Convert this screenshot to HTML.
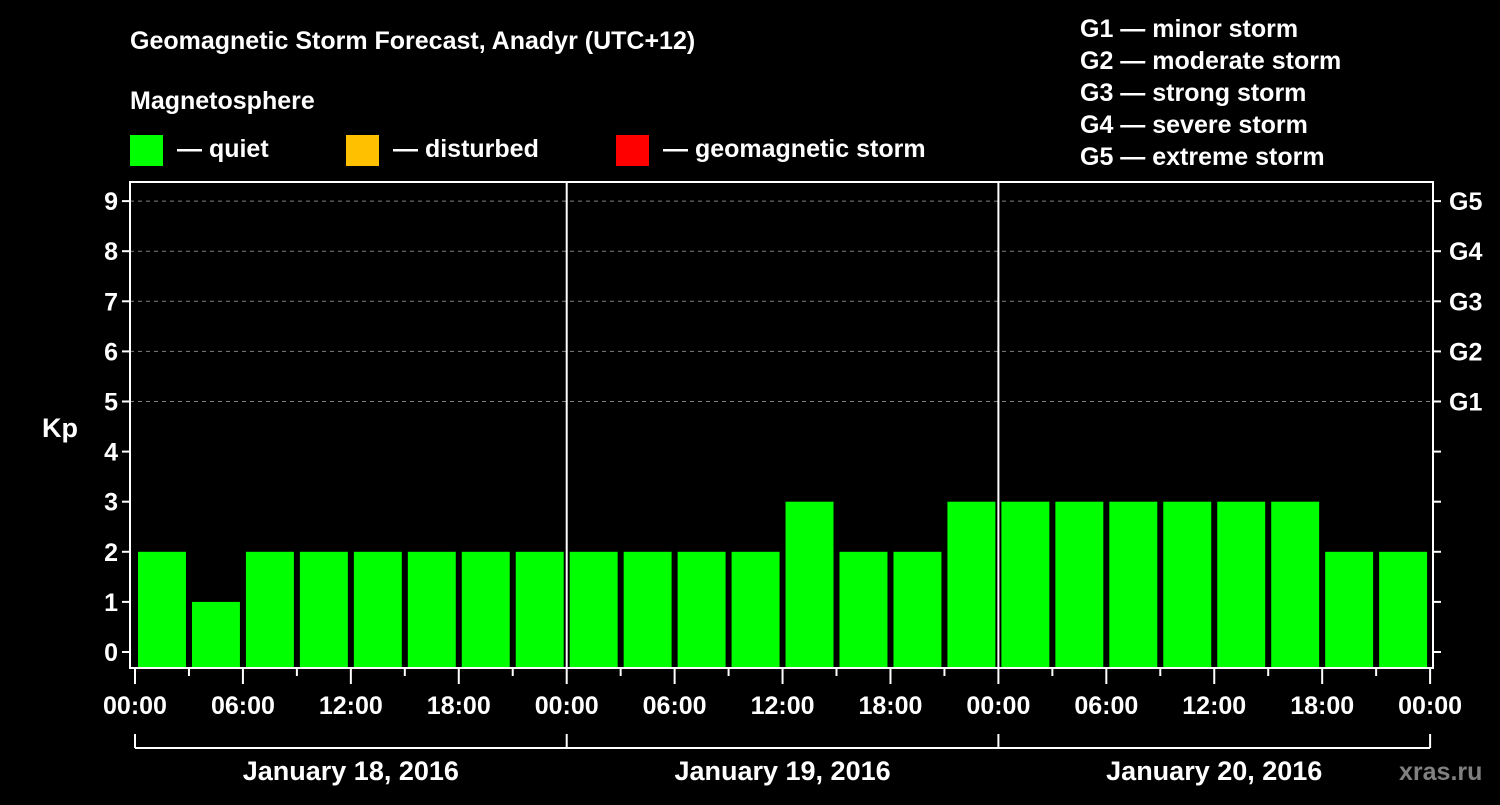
<!DOCTYPE html>
<html><head><meta charset="utf-8"><style>
html,body{margin:0;padding:0;background:#000;}
svg text{font-family:"Liberation Sans",Arial,sans-serif;font-weight:bold;fill:#fff;}
</style></head><body>
<svg id="chart" width="1500" height="800" viewBox="0 0 1500 800" xmlns="http://www.w3.org/2000/svg">
<rect width="1500" height="800" fill="#000"/>
<text x="130" y="49" font-size="25">Geomagnetic Storm Forecast, Anadyr (UTC+12)</text>
<text x="130" y="109" font-size="25">Magnetosphere</text>
<g><rect x="130" y="135" width="33" height="31" fill="#00ff00"/><text x="177" y="157" font-size="25">— quiet</text></g>
<g><rect x="346" y="135" width="33" height="31" fill="#ffc000"/><text x="393" y="157" font-size="25">— disturbed</text></g>
<g><rect x="616" y="135" width="33" height="31" fill="#ff0000"/><text x="663" y="157" font-size="25">— geomagnetic storm</text></g>
<g font-size="25">
<text x="1080" y="37">G1 — minor storm</text>
<text x="1080" y="69">G2 — moderate storm</text>
<text x="1080" y="101">G3 — strong storm</text>
<text x="1080" y="133">G4 — severe storm</text>
<text x="1080" y="165">G5 — extreme storm</text>
</g>
<text x="42" y="437" font-size="27">Kp</text>
<text x="1399" y="780" font-size="25" style="fill:#808080">xras.ru</text>
<g id="plot"></g>
</svg>
<script>
const kpValues = [2,1,2,2,2,2,2,2, 2,2,2,2,3,2,2,3, 3,3,3,3,3,3,2,2];
const dayLabels = ["January 18, 2016","January 19, 2016","January 20, 2016"];
const hourLabels = ["00:00","06:00","12:00","18:00"];
const yTicks = [0,1,2,3,4,5,6,7,8,9];
const gLabels = ["G1","G2","G3","G4","G5"];

const NS="http://www.w3.org/2000/svg";
const plot=document.getElementById('plot');
const L=130,R=1433,T=182,B=668;
const x0=135,dayW=431.7;
function xs(h){return x0+h*dayW/24;}
function ys(v){return 652-v*50.1;}
function mk(tag,attrs,parent){const e=document.createElementNS(NS,tag);for(const k in attrs)e.setAttribute(k,attrs[k]);(parent||plot).appendChild(e);return e;}

// grid
for(let v=5;v<=9;v++){
  const g=mk('line',{x1:L,x2:R,y1:ys(v),y2:ys(v),stroke:'#808080','stroke-width':1,'stroke-dasharray':'4,4'});
  
  
}
// bars
kpValues.forEach((v,i)=>{
  const c=v>=5?'#ff0000':(v>=4?'#ffc000':'#00ff00');
  const r=mk('rect',{x:xs(i*3)+3,y:ys(v),width:dayW/8-6,height:B-ys(v),fill:c});
  
  
});
// day separators
for(let d=1;d<3;d++){
  const s=mk('line',{x1:xs(d*24),x2:xs(d*24),y1:T,y2:B,stroke:'#fff','stroke-width':2});
  
  
}
// frame
const fr=mk('rect',{x:L,y:T,width:R-L,height:B-T,fill:'none',stroke:'#fff','stroke-width':2});


// y ticks
yTicks.forEach(v=>{
  const y=ys(v);
  mk('line',{x1:L-8,x2:L,y1:y,y2:y,stroke:'#fff','stroke-width':2});
  mk('line',{x1:R,x2:R+8,y1:y,y2:y,stroke:'#fff','stroke-width':2});
  const t=mk('text',{x:L-12,y:y+9,'font-size':25,'text-anchor':'end'});
  t.textContent=v;
  
  
});
gLabels.forEach((g,i)=>{
  const t=mk('text',{x:1449,y:ys(5+i)+9,'font-size':25});
  t.textContent=g;
  
  
});
// x ticks
for(let h=0;h<=72;h+=3){
  const x=xs(h);
  const major=h%6===0;
  mk('line',{x1:x,x2:x,y1:B,y2:major?B+16:B+8,stroke:'#fff','stroke-width':2});
  if(major){
    const t=mk('text',{x:x,y:714,'font-size':25,'text-anchor':'middle'});
    t.textContent=hourLabels[(h/6)%4];
    
    
  }
}
// date bracket
mk('line',{x1:xs(0),x2:xs(72),y1:748,y2:748,stroke:'#fff','stroke-width':2});
for(let d=0;d<=3;d++) mk('line',{x1:xs(d*24),x2:xs(d*24),y1:734,y2:748,stroke:'#fff','stroke-width':2});
dayLabels.forEach((lab,d)=>{
  const t=mk('text',{x:xs(d*24+12),y:780,'font-size':27,'text-anchor':'middle'});
  t.textContent=lab;
  
  
});
</script>
</body></html>
